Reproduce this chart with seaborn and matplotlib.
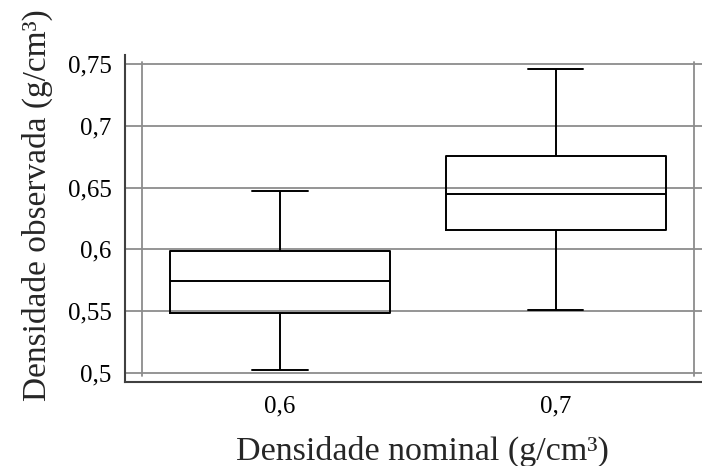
import matplotlib
matplotlib.use("Agg")
import matplotlib.pyplot as plt
import numpy as np
import pandas as pd
import seaborn as sns

# Nominal density classes and the five-number summary of observed density
nominal = ["0,6", "0,7"]
obs_min = [0.5022, 0.5511]
obs_q1 = [0.5481, 0.6154]
obs_median = [0.5746, 0.6448]
obs_q3 = [0.5984, 0.6757]
obs_max = [0.6471, 0.7462]

y_ticks = [0.50, 0.55, 0.60, 0.65, 0.70, 0.75]
y_tick_labels = ["0,5", "0,55", "0,6", "0,65", "0,7", "0,75"]

rows = []
for i, cat in enumerate(nominal):
    for v in (obs_min[i], obs_q1[i], obs_median[i], obs_q3[i], obs_max[i]):
        rows.append({"nominal": cat, "observed": v})
df = pd.DataFrame(rows)

sns.set_style("white")
plt.rcParams["font.family"] = ["Liberation Serif", "DejaVu Serif"]

fig = plt.figure(figsize=(7.02, 4.66), dpi=100)
W, H = 702, 466
left, right, top, bottom = 125, 717, 55, 382
ax = fig.add_axes([left / W, (H - bottom) / H, (right - left) / W, (bottom - top) / H])

grid_color = "#8c8c8c"
for yv in y_ticks:
    ax.axhline(yv, color=grid_color, lw=1.3, zorder=0)
for xv in (-0.5, 1.5):
    ax.plot([xv, xv], [0.4973, 0.7522], color=grid_color, lw=1.3, zorder=0)

sns.boxplot(data=df, x="nominal", y="observed", order=nominal, ax=ax,
            whis=(0, 100), width=0.8, fill=False, color="black",
            linewidth=1.4, capwidths=0.2, zorder=2)

ax.set_xlim(-0.562, 1.584)
ax.set_ylim(0.4925, 0.7575)
ax.set_yticks(y_ticks)
ax.set_yticklabels(y_tick_labels)

for s in ("top", "right"):
    ax.spines[s].set_visible(False)
for s in ("left", "bottom"):
    ax.spines[s].set_color("#404040")
    ax.spines[s].set_linewidth(1.5)

ax.tick_params(axis="y", length=0, pad=9.5, labelsize=18, colors="black")
ax.tick_params(axis="x", length=0, pad=10, labelsize=18, colors="black")

ax.set_xlabel("Densidade nominal (g/cm³)", fontsize=24.5, va="center")
ax.set_ylabel("Densidade observada (g/cm³)", fontsize=24, va="center")
ax.xaxis.set_label_coords((422 - left) / (right - left), (bottom - 451) / (bottom - top))
ax.yaxis.set_label_coords((37 - left) / (right - left), (bottom - 205) / (bottom - top))

fig.savefig("out.png", dpi=100)
